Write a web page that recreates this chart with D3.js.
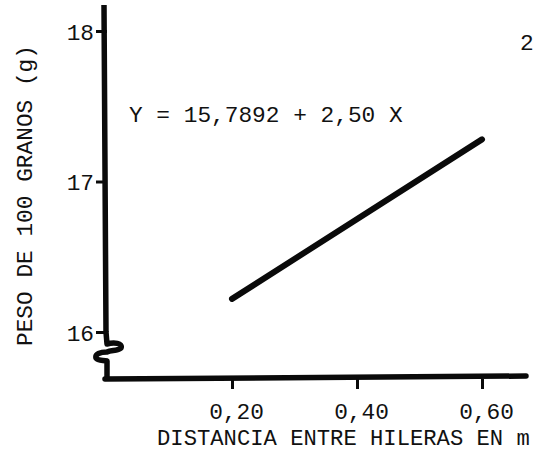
<!DOCTYPE html>
<html>
<head>
<meta charset="utf-8">
<script src="https://cdn.jsdelivr.net/npm/d3@7"></script>
<style>
  html, body { margin: 0; padding: 0; background: #fff; }
  svg { display: block; }
  text { font-family: "Liberation Mono", "DejaVu Sans Mono", monospace; fill: #111; }
</style>
</head>
<body>
<svg id="chart" width="535" height="453"></svg>
<script>
// ---- data ----
const xTicks = [0.20, 0.40, 0.60];
const xTickLabels = ["0,20", "0,40", "0,60"];
const yTicks = [16, 17, 18];
const yTickLabels = ["16", "17", "18"];
const lineX = [0.20, 0.60];
const lineY = [16.22, 17.28];
const equation = "Y = 15,7892 + 2,50 X";
const xTitle = "DISTANCIA ENTRE HILERAS EN m";
const yTitle = "PESO DE 100 GRANOS (g)";
const pageMark = "2";

// ---- layout ----
const svg = d3.select("#chart");
const ink = "#0a0a0a";
const fs = 22.8;
const x = d3.scaleLinear().domain([0, 0.6]).range([107, 482]);
const y = d3.scaleLinear().domain([16, 18]).range([332, 31]);
const axisY = 379;
const axisX = x(0);

// y axis ticks
const yAxis = d3.axisLeft(y).tickValues(yTicks)
  .tickFormat((d, i) => yTickLabels[i]).tickSize(11).tickPadding(4);
const gy = svg.append("g").attr("transform", `translate(${axisX},0)`).call(yAxis);
gy.select(".domain").remove();
gy.selectAll("line").attr("stroke", ink).attr("stroke-width", 3);
gy.selectAll("text").attr("font-size", fs).attr("fill", ink).attr("dy", "0.36em").attr("dx", 2);

// x axis ticks
const xAxis = d3.axisBottom(x).tickValues(xTicks)
  .tickFormat((d, i) => xTickLabels[i]).tickSize(10).tickPadding(13);
const gx = svg.append("g").attr("transform", `translate(0,${axisY})`).call(xAxis);
gx.select(".domain").remove();
gx.selectAll("line").attr("stroke", ink).attr("stroke-width", 3);
gx.selectAll("text").attr("font-size", fs).attr("fill", ink).attr("dy", "0.75em").attr("dx", 4);

// y axis line with break
const ax = axisX - 1;
const bp = d3.path();
bp.moveTo(ax - 2, 5);
bp.lineTo(ax, y(16));
bp.lineTo(ax + 1, 344);
bp.bezierCurveTo(ax + 8, 342, ax + 17, 343, ax + 15, 348);
bp.bezierCurveTo(ax + 12, 351, ax + 5, 350, ax + 1, 352);
bp.bezierCurveTo(ax - 6, 352, ax - 11, 354, ax - 10, 358);
bp.bezierCurveTo(ax - 8, 361, ax - 3, 360, ax + 1, 361);
bp.lineTo(ax + 1, axisY);
svg.append("path").attr("d", bp.toString()).attr("fill", "none")
  .attr("stroke", ink).attr("stroke-width", 5.5).attr("stroke-linejoin", "round");

// x axis line
svg.append("line").attr("x1", ax - 1).attr("x2", 526).attr("y1", axisY).attr("y2", axisY - 3)
  .attr("stroke", ink).attr("stroke-width", 5.5).attr("stroke-linecap", "round");

// regression line
const pts = lineX.map((v, i) => [x(v), y(lineY[i])]);
svg.append("path").attr("d", d3.line()(pts)).attr("fill", "none")
  .attr("stroke", ink).attr("stroke-width", 6).attr("stroke-linecap", "round");

// equation
svg.append("text").attr("x", 129).attr("y", 122).attr("font-size", fs).text(equation);

// axis titles
svg.append("text").attr("x", 157).attr("y", 445).attr("font-size", 22.2).text(xTitle);
svg.append("text").attr("transform", "translate(32,346) rotate(-90)")
  .attr("font-size", fs).text(yTitle);

// page mark
svg.append("text").attr("x", 520).attr("y", 50).attr("font-size", fs).text(pageMark);
</script>
</body>
</html>
